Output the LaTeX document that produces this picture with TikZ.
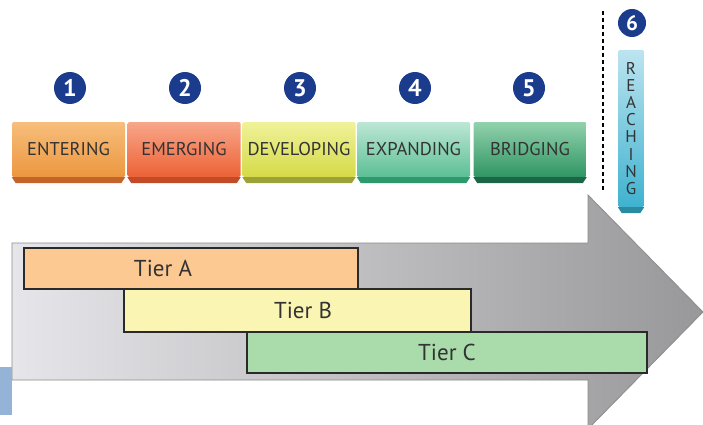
\documentclass[tikz,border=0pt]{standalone}
\usepackage{fontspec}
\setmainfont{PT Sans}
\usetikzlibrary{calc}
\definecolor{numBlue}{HTML}{1B3C8C}
\definecolor{labGray}{HTML}{333333}
\definecolor{entT}{HTML}{F7BE7C}
\definecolor{entB}{HTML}{EC973F}
\definecolor{entS}{HTML}{C4642C}
\definecolor{emgT}{HTML}{F8A68A}
\definecolor{emgB}{HTML}{EC6235}
\definecolor{emgS}{HTML}{C24A27}
\definecolor{devT}{HTML}{F0F29A}
\definecolor{devB}{HTML}{D4DA48}
\definecolor{devS}{HTML}{9CA23A}
\definecolor{expT}{HTML}{BDE7D5}
\definecolor{expB}{HTML}{5CBF95}
\definecolor{expS}{HTML}{2E9A6B}
\definecolor{brdT}{HTML}{92D2AC}
\definecolor{brdB}{HTML}{2F9563}
\definecolor{brdS}{HTML}{1B6548}
\definecolor{rchT}{HTML}{BCE4F0}
\definecolor{rchB}{HTML}{3FB2CF}
\definecolor{rchS}{HTML}{2A8AA0}
\definecolor{arrL}{HTML}{E6E6EA}
\definecolor{arrR}{HTML}{98989A}
\definecolor{arrEdge}{HTML}{8C8C8C}
\definecolor{tierLine}{HTML}{2A2A2A}
\definecolor{tierA}{HTML}{FDC993}
\definecolor{tierB}{HTML}{FBF5B3}
\definecolor{tierC}{HTML}{A9DCAA}
\definecolor{sideBlue}{HTML}{95B3D7}
\tikzset{pgp/.style={
  x=1pt,
  y=-1pt
}}
\tikzset{phn/.style={
  shape=rectangle,
  rounded corners=1.5pt,
  inner sep=0pt,
  minimum width=113pt,
  minimum height=55pt,
  text=labGray,
  font=\fontsize{18.5}{20}\selectfont
}}
\tikzset{num/.style={
  shape=circle,
  fill=numBlue,
  text=white,
  inner sep=0pt,
  minimum size=32pt,
  font=\bfseries\fontsize{24}{24}\selectfont
}}
\tikzset{tier/.style={
  draw=tierLine,
  line width=1.3pt,
  shape=rectangle,
  inner sep=0pt,
  minimum height=41pt,
  text=labGray,
  font=\fontsize{23}{25}\selectfont
}}
\newcommand{\phstrip}[2]{
  \fill[#2] (#1.south west) -- (#1.south east)
    -- ([xshift=-4pt,yshift=-6pt]#1.south east)
    -- ([xshift=4pt,yshift=-6pt]#1.south west) -- cycle;
}

\begin{document}
\begin{tikzpicture}[pgp]
  \useasboundingbox (0,0) rectangle (703,425);

  %% Big arrow

  \draw[left color=arrL, right color=arrR, draw=arrEdge, line width=0.8pt]
    (12,243) -- (588,243) -- (588,195) -- (703,312)
    -- (588,429) -- (588,380) -- (12,380) -- cycle;
  \fill[sideBlue] (0,367) rectangle (12,415);

  %% Tiers

  \node[tier, fill=tierA, minimum width=334pt] (ta) at (191,268.5)
    {Tier A\kern56pt};
  \node[tier, fill=tierB, minimum width=347pt, minimum height=43pt] (tb)
    at (297.5,310.5) {\kern11pt Tier B};
  \node[tier, fill=tierC, minimum width=400pt] (tc) at (447,352.5) {Tier C};

  %% Phases

  \node[phn, top color=entT, bottom color=entB] (ent) at (68.5,149.5) {ENTERING};
  \node[phn, top color=emgT, bottom color=emgB] (emg) at (184,149.5) {EMERGING};
  \node[phn, top color=devT, bottom color=devB] (dev) at (299,149.5) {DEVELOPING};
  \node[phn, top color=expT, bottom color=expB] (exp) at (413.5,149.5) {EXPANDING};
  \node[phn, top color=brdT, bottom color=brdB] (brd) at (530,149.5) {BRIDGING};
  \phstrip{ent}{entS}
  \phstrip{emg}{emgS}
  \phstrip{dev}{devS}
  \phstrip{exp}{expS}
  \phstrip{brd}{brdS}

  % Numbers
  \node[num] (n1) at (70,88) {1};
  \node[num] (n2) at (185,88) {2};
  \node[num] (n3) at (300,88) {3};
  \node[num] (n4) at (415,88) {4};
  \node[num] (n5) at (529,88) {5};

  %% Reaching

  \draw[line width=1.8pt, dash pattern=on 4pt off 3pt] (603,11) -- (603,192);
  \node[phn, top color=rchT, bottom color=rchB, minimum width=26pt,
    minimum height=157pt, align=center,
    font=\fontsize{17}{17.1}\selectfont] (rch) at (631,128.5)
    {R\\E\\A\\C\\H\\I\\N\\G};
  \phstrip{rch}{rchS}
  \node[num, minimum size=28pt, font=\bfseries\fontsize{21}{21}\selectfont]
    (n6) at (632,23) {6};

\end{tikzpicture}
\end{document}
